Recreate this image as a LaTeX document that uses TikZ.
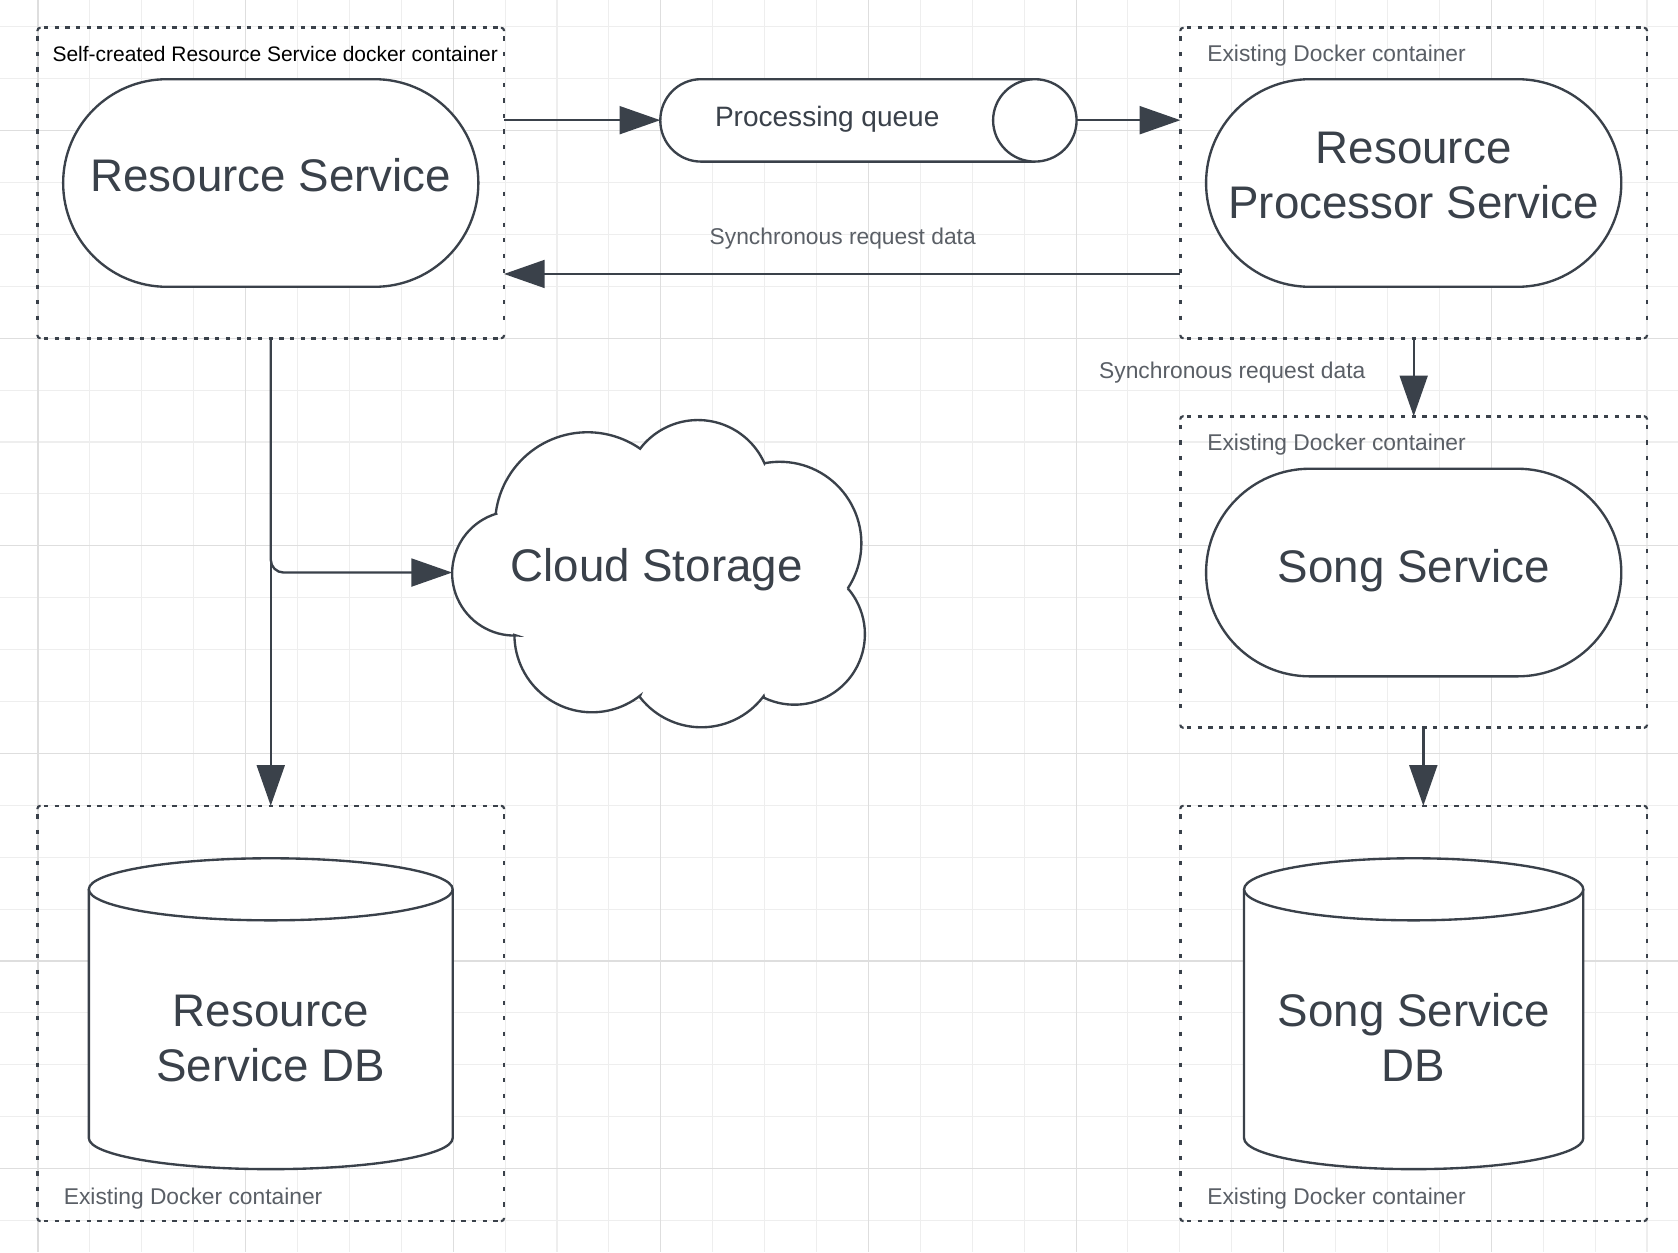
\documentclass[tikz,border=0pt]{standalone}
\usepackage{fontspec}
\setmainfont{Liberation Sans}
\usetikzlibrary{arrows.meta,shapes.misc,calc}
\definecolor{ink}{HTML}{3A414A}
\definecolor{lbl}{HTML}{5A5F66}
\definecolor{gridminor}{HTML}{EEEEEE}
\definecolor{gridmajor}{HTML}{DEDEDE}
\tikzset{
  shapeline/.style={draw=ink, line width=2.2pt},
  container/.style={inner sep=0pt, outer sep=0pt},
  edgeline/.style={draw=ink, line width=2.5pt},
  stadium/.style={shapeline, fill=white, rounded rectangle, minimum width=388pt, minimum height=194pt, inner sep=0pt, outer sep=0pt},
  conn/.style={draw=ink, line width=2.2pt, -{Triangle[length=38pt,width=26pt]}},
  bigtxt/.style={text=ink, inner sep=0pt, anchor=base, font=\fontsize{42.7pt}{51.5pt}\selectfont},
  smalltxt/.style={text=lbl, inner sep=0pt, font=\fontsize{21.3pt}{25pt}\selectfont},
  queuetxt/.style={text=ink, inner sep=0pt, anchor=base, font=\fontsize{26.2pt}{31pt}\selectfont},
}
% dashed container border drawn edge by edge (horizontal and vertical dashes differ)
\newcommand\dockerbox[1]{%
  \draw[edgeline, dash pattern=on 4pt off 6pt] ([xshift=6pt]#1.north west) -- ([xshift=-6pt]#1.north east);
  \draw[edgeline, dash pattern=on 4pt off 6pt] ([xshift=6pt]#1.south west) -- ([xshift=-6pt]#1.south east);
  \draw[edgeline, dash pattern=on 4pt off 10.5pt] ([yshift=-8pt]#1.north west) -- ([yshift=8pt]#1.south west);
  \draw[edgeline, dash pattern=on 4pt off 10.5pt] ([yshift=-8pt]#1.north east) -- ([yshift=8pt]#1.south east);
  \draw[edgeline, line width=2pt, rounded corners=2.5pt] ([yshift=-3pt]#1.north west) -- (#1.north west) -- ([xshift=3pt]#1.north west);
  \draw[edgeline, line width=2pt, rounded corners=2.5pt] ([yshift=-3pt]#1.north east) -- (#1.north east) -- ([xshift=-3pt]#1.north east);
  \draw[edgeline, line width=2pt, rounded corners=2.5pt] ([yshift=3pt]#1.south west) -- (#1.south west) -- ([xshift=3pt]#1.south west);
  \draw[edgeline, line width=2pt, rounded corners=2.5pt] ([yshift=3pt]#1.south east) -- (#1.south east) -- ([xshift=-3pt]#1.south east);
}
\begin{document}
\begin{tikzpicture}[x=1pt, y=-1pt]
\useasboundingbox (0,0) rectangle (1568,1170);
\fill[white] (0,0) rectangle (1568,1170);
% grid
\foreach \k in {-1,...,32} {\draw[gridminor, line width=1pt] ({35.5+48.5*\k},0) -- ({35.5+48.5*\k},1170);}
\foreach \k in {-3,...,22} {\draw[gridminor, line width=1pt] (0,{122+48.5*\k}) -- (1568,{122+48.5*\k});}
\foreach \k in {0,...,7} {\draw[gridmajor, line width=1pt] ({35.5+194*\k},0) -- ({35.5+194*\k},1170);}
\foreach \k in {-1,...,5} {\draw[gridmajor, line width=1pt] (0,{122+194*\k}) -- (1568,{122+194*\k});}

% containers
\node[container, minimum width=436pt, minimum height=290pt] (c1) at (253,171) {};
\node[container, minimum width=436pt, minimum height=290pt] (c2) at (1321,171) {};
\node[container, minimum width=436pt, minimum height=291pt] (c3) at (1321,534.5) {};
\node[container, minimum width=436pt, minimum height=388pt] (c4) at (1321,947) {};
\node[container, minimum width=436pt, minimum height=388pt] (c5) at (253,947) {};
\dockerbox{c1}
\dockerbox{c2}
\dockerbox{c3}
\dockerbox{c4}
\dockerbox{c5}

% container labels
\node[inner sep=0pt, anchor=base west, text=black, font=\fontsize{19.6pt}{23pt}\selectfont] (c1lab) at (48.9,57.6) {Self-created Resource Service docker container};
\node[smalltxt, anchor=base west] (c2lab) at (1128,57.9) {Existing Docker container};
\node[smalltxt, anchor=base west] (c3lab) at (1128,421) {Existing Docker container};
\node[smalltxt, anchor=base west] (c4lab) at (1128,1125.3) {Existing Docker container};
\node[smalltxt, anchor=base west] (c5lab) at (59.5,1125.3) {Existing Docker container};

% services
\node[stadium] (rs) at (253,171) {};
\node[bigtxt] (rstxt) at (253,179) {Resource Service};
\node[stadium] (rps) at (1321,171) {};
\node[bigtxt] (rpstxt1) at (1321,152.6) {Resource};
\node[bigtxt] (rpstxt2) at (1321,204) {Processor Service};
\node[stadium] (ss) at (1321,535) {};
\node[bigtxt] (sstxt) at (1321,544.3) {Song Service};

% queue
\filldraw[shapeline, fill=white] (967,74) -- (655,74) .. controls (634,74) and (617,91.2) .. (617,112.5) .. controls (617,133.8) and (634,151) .. (655,151) -- (967,151);
\filldraw[shapeline, fill=white] (967,112.5) ellipse[x radius=39, y radius=38.5];
\coordinate (qw) at (617,112.3);
\coordinate (qe) at (1006,112.3);
\node[queuetxt] (qtxt) at (773,118.4) {Processing queue};

% cloud
\filldraw[shapeline, fill=white]
  plot[domain=-172.9:-55.3, samples=40, variable=\t] ({549+86.4*cos(\t)},{490.3+86.4*sin(\t)})
  -- plot[domain=-142.3:-23.9, samples=40, variable=\t] ({652.2+68*cos(\t)},{460.5+68*sin(\t)})
  -- plot[domain=-100.8:33.5, samples=40, variable=\t] ({728.7+76.2*cos(\t)},{507.7+76.2*sin(\t)})
  -- plot[domain=-40.8:115.6, samples=40, variable=\t] ({742.4+65.8*cos(\t)},{592.7+65.8*sin(\t)})
  -- plot[domain=36.8:142.6, samples=40, variable=\t] ({655.4+72.7*cos(\t)},{606.9+72.7*sin(\t)})
  -- plot[domain=51.7:179.8, samples=40, variable=\t] ({553.2+72.5*cos(\t)},{593.1+72.5*sin(\t)})
  -- plot[domain=88.4:252.9, samples=40, variable=\t] ({480.7+58.2*cos(\t)},{535.7+58.2*sin(\t)})
  -- cycle;
\coordinate (cloudw) at (422.5,535);
\node[bigtxt] (cloudtxt) at (613.5,543.5) {Cloud Storage};

% databases
\filldraw[shapeline, fill=white] (423,831) -- (423,1063.5) .. controls (423,1079.5) and (346.9,1092.5) .. (253,1092.5) .. controls (159.1,1092.5) and (83,1079.5) .. (83,1063.5) -- (83,831);
\filldraw[shapeline, fill=white] (253,831) ellipse[x radius=170, y radius=29];
\node[bigtxt] (db1txt1) at (253,959.3) {Resource};
\node[bigtxt] (db1txt2) at (253,1011) {Service DB};

\filldraw[shapeline, fill=white] (1479.5,831) -- (1479.5,1063.5) .. controls (1479.5,1079.5) and (1408.5,1092.5) .. (1321,1092.5) .. controls (1233.5,1092.5) and (1162.5,1079.5) .. (1162.5,1063.5) -- (1162.5,831);
\filldraw[shapeline, fill=white] (1321,831) ellipse[x radius=158.5, y radius=29];
\node[bigtxt] (db2txt1) at (1321,959.3) {Song Service};
\node[bigtxt] (db2txt2) at (1321,1011) {DB};

% connectors
\coordinate (s1y) at (787,256);
\draw[conn] (c1.east |- qw) -- (qw);
\draw[conn] (qe) -- (c2.west |- qe);
\draw[conn] (c2.west |- s1y) -- (c1.east |- s1y);
\node[smalltxt, anchor=base] (s1) at (787.5,228.9) {Synchronous request data};
\draw[conn] (c2.south) -- (c3.north);
\node[smalltxt, anchor=base east] (s2) at (1276,353.5) {Synchronous request data};
\draw[conn] ([xshift=9pt]c3.south) -- ([xshift=9pt]c4.north);
\draw[conn] (c1.south) -- (c5.north);
\draw[conn, rounded corners=12pt] (c1.south) |- (cloudw);
\end{tikzpicture}
\end{document}
